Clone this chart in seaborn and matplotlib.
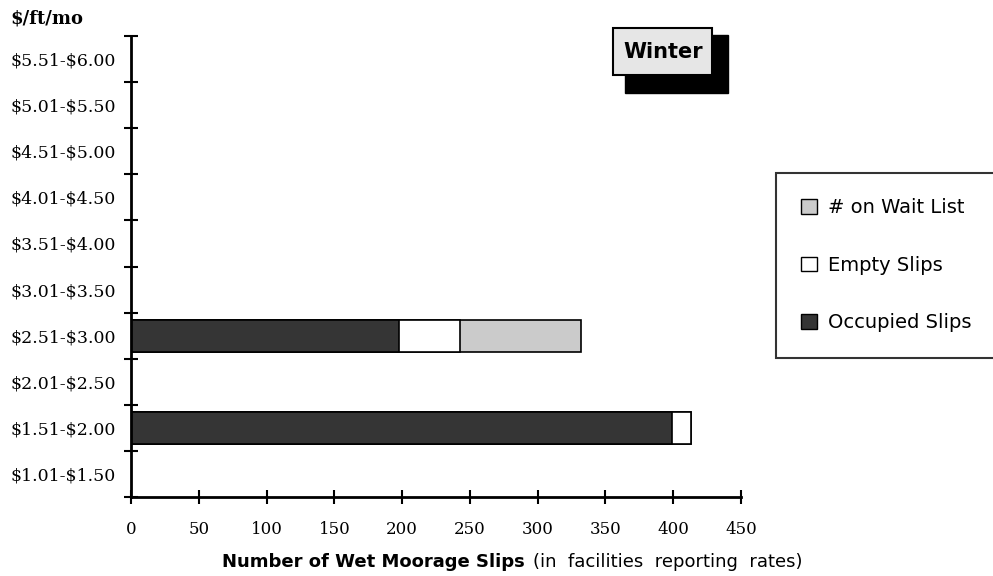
import numpy as np
import pandas as pd
import matplotlib
matplotlib.use('Agg')
import matplotlib.pyplot as plt
from matplotlib.patches import Patch, Rectangle
import seaborn as sns

# chart data
categories = ['$5.51-$6.00', '$5.01-$5.50', '$4.51-$5.00', '$4.01-$4.50',
              '$3.51-$4.00', '$3.01-$3.50', '$2.51-$3.00', '$2.01-$2.50',
              '$1.51-$2.00', '$1.01-$1.50']
occupied = [0, 0, 0, 0, 0, 0, 198, 0, 399, 0]
empty = [0, 0, 0, 0, 0, 0, 45, 0, 14, 0]
wait_list = [0, 0, 0, 0, 0, 0, 89, 0, 0, 0]
x_ticks = [0, 50, 100, 150, 200, 250, 300, 350, 400, 450]

sns.set_style('white')
plt.rcParams['font.family'] = ['DejaVu Serif']
for key in ['text.color', 'axes.labelcolor', 'xtick.color', 'ytick.color']:
    plt.rcParams[key] = 'black'

df = pd.DataFrame({'range': categories, 'occupied': occupied,
                   'empty': empty, 'wait': wait_list})
df['occ_empty'] = df['occupied'] + df['empty']
df['total'] = df['occ_empty'] + df['wait']

occ_color = '#353535'
wait_color = '#cbcbcb'

fig = plt.figure(figsize=(9.93, 5.76), dpi=100)
ax = fig.add_axes([131 / 993, 1 - 497 / 576, 610 / 993, 461 / 576])

# stacked horizontal bars, drawn as cumulative totals
bar_kw = dict(orient='h', width=0.7, saturation=1, edgecolor='black',
              linewidth=1.2, ax=ax)
sns.barplot(data=df, x='total', y='range', color=wait_color, **bar_kw)
sns.barplot(data=df, x='occ_empty', y='range', color='white', **bar_kw)
sns.barplot(data=df, x='occupied', y='range', color=occ_color, **bar_kw)

ax.set_xlim(0, 450)
ax.set_ylim(9.5, -0.5)
ax.set_xticks(x_ticks)
ax.set_xticklabels([str(t) for t in x_ticks], fontsize=12)
ax.set_yticks(range(len(categories)))
ax.set_yticklabels([c.replace('$', r'\$') for c in categories], fontsize=12.5)
ax.set_yticks(np.arange(-0.5, len(categories), 1.0), minor=True)
ax.tick_params(axis='y', which='major', left=True, length=0, pad=11)
ax.tick_params(axis='y', which='minor', left=True, direction='inout',
               length=10, width=1.5, color='black')
ax.tick_params(axis='x', which='major', bottom=True, direction='inout',
               length=10, width=1.5, color='black', pad=12)
ax.set_xlabel('')
ax.set_ylabel('')

for side in ['top', 'right']:
    ax.spines[side].set_visible(False)
for side in ['left', 'bottom']:
    ax.spines[side].set_linewidth(2)
    ax.spines[side].set_color('black')

# unit label and axis title
fig.text(10 / 993, 1 - 18 / 576, r'\$/ft/mo', fontsize=13, fontweight='bold',
         va='center', ha='left')
fig.text(525 / 993, 1 - 562 / 576, 'Number of Wet Moorage Slips',
         family='DejaVu Sans', fontsize=13, fontweight='bold',
         ha='right', va='center')
fig.text(533 / 993, 1 - 562 / 576, '(in  facilities  reporting  rates)',
         family='DejaVu Sans', fontsize=13, ha='left', va='center')

# "Winter" tag with drop shadow
fig.patches.append(Rectangle((625 / 993, 1 - 93 / 576), 103 / 993, 58 / 576,
                             transform=fig.transFigure, facecolor='black',
                             edgecolor='black', zorder=1))
fig.patches.append(Rectangle((613 / 993, 1 - 75 / 576), 99 / 993, 47 / 576,
                             transform=fig.transFigure, facecolor='#e6e6e6',
                             edgecolor='black', linewidth=1.5, zorder=2))
fig.text(663 / 993, 1 - 52 / 576, 'Winter', family='DejaVu Sans',
         fontsize=15, fontweight='bold', ha='center', va='center', zorder=3)

# legend
handles = [Patch(facecolor=wait_color, edgecolor='black', label='# on Wait List'),
           Patch(facecolor='white', edgecolor='black', label='Empty Slips'),
           Patch(facecolor=occ_color, edgecolor='black', label='Occupied Slips')]
leg = fig.legend(handles=handles, loc='upper left',
                 bbox_to_anchor=(776 / 993, 1 - 173 / 576),
                 frameon=True, fancybox=False, edgecolor='black',
                 prop={'family': 'DejaVu Sans', 'size': 14},
                 handlelength=0.8, handleheight=0.8, handletextpad=0.6,
                 labelspacing=1.98, borderpad=1.3, borderaxespad=0)
leg.get_frame().set_linewidth(1.5)

fig.savefig('out.png', dpi=100)
